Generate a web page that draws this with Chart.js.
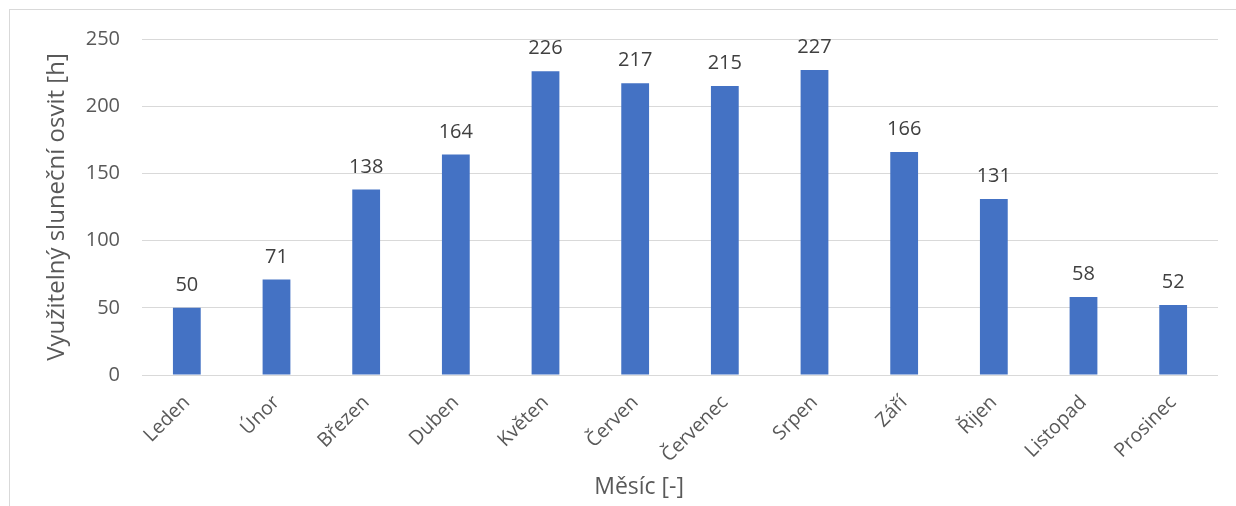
<!DOCTYPE html>
<html>
<head>
<meta charset="utf-8">
<script src="https://cdn.jsdelivr.net/npm/chart.js@4/dist/chart.umd.min.js"></script>
<style>
  html, body { margin:0; padding:0; background:#fff; }
  body { width:1236px; height:506px; overflow:hidden; position:relative; }
  #frame { position:absolute; left:9px; top:9px; width:1240px; height:520px; border:1px solid #d9d9d9; box-sizing:border-box; }
  #wrap { position:absolute; left:0; top:0; width:1236px; height:506px; }
</style>
</head>
<body>
<div id="frame"></div>
<div id="wrap"><canvas id="chartOsvit"></canvas></div>
<script>
// data
const months = ['Leden','Únor','Březen','Duben','Květen','Červen','Červenec','Srpen','Září','Řijen','Listopad','Prosinec'];
const hours  = [50, 71, 138, 164, 226, 217, 215, 227, 166, 131, 58, 52];
const yMax   = 250;
const yStep  = 50;

const FONT = "'Open Sans', sans-serif";

// value labels above bars
const barLabels = {
  id: 'barLabels',
  afterDatasetsDraw(chart) {
    const ctx  = chart.ctx;
    const meta = chart.getDatasetMeta(0);
    ctx.save();
    ctx.font = `20px ${FONT}`;
    ctx.fillStyle = '#404040';
    ctx.textAlign = 'center';
    ctx.textBaseline = 'alphabetic';
    meta.data.forEach((bar, i) => {
      ctx.fillText(String(hours[i]), bar.x, bar.y - 17);
    });
    ctx.restore();
  }
};

// x axis title (Excel centres it on the chart, not the plot)
const xTitle = {
  id: 'xTitle',
  afterDraw(chart) {
    const ctx = chart.ctx;
    const a = chart.chartArea;
    ctx.save();
    ctx.font = `23px ${FONT}`;
    ctx.fillStyle = '#595959';
    ctx.textAlign = 'center';
    ctx.textBaseline = 'middle';
    ctx.fillText('Měsíc [-]', a.left + (a.right - a.left) * 0.462, 487);
    ctx.restore();
  }
};

const ctx = document.getElementById('chartOsvit').getContext('2d');
new Chart(ctx, {
  type: 'bar',
  data: {
    labels: months,
    datasets: [{
      label: 'Využitelný sluneční osvit [h]',
      data: hours,
      backgroundColor: '#4472c4',
      borderWidth: 0,
      categoryPercentage: 1,
      barPercentage: 0.31
    }]
  },
  options: {
    responsive: true,
    maintainAspectRatio: false,
    animation: false,
    devicePixelRatio: 1,
    layout: { padding: { left: 9, right: 18, top: 39, bottom: 0 } },
    plugins: {
      legend: { display: false },
      tooltip: { enabled: false }
    },
    scales: {
      x: {
        grid: { display: false },
        border: { display: false },
        ticks: {
          color: '#595959',
          font: { family: FONT, size: 19.5 },
          minRotation: 45,
          maxRotation: 45,
          padding: 8
        },
        afterFit: s => { s.height = 131; }
      },
      y: {
        min: 0,
        max: yMax,
        grid: { color: '#d9d9d9', lineWidth: 1, drawTicks: false },
        border: { display: false },
        ticks: {
          stepSize: yStep,
          color: '#595959',
          font: { family: FONT, size: 20 },
          padding: 22
        },
        title: {
          display: true,
          text: 'Využitelný sluneční osvit [h]',
          color: '#595959',
          font: { family: FONT, size: 24 },
          padding: { top: 34, bottom: 0 }
        },
        afterFit: s => { s.width = 133; }
      }
    }
  },
  plugins: [barLabels, xTitle]
});
</script>
</body>
</html>
